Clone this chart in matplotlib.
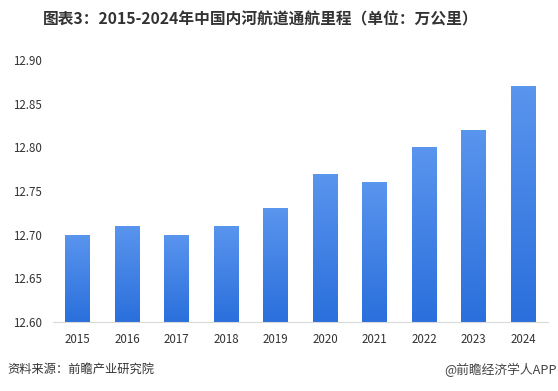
import matplotlib.pyplot as plt
import numpy as np
from matplotlib.colors import LinearSegmentedColormap

plt.rcParams['font.family'] = ['Noto Sans CJK SC', 'DejaVu Sans']

years = ['2015', '2016', '2017', '2018', '2019', '2020', '2021', '2022', '2023', '2024']
mileage = [12.70, 12.71, 12.70, 12.71, 12.73, 12.77, 12.76, 12.80, 12.82, 12.87]
yticks = [12.60, 12.65, 12.70, 12.75, 12.80, 12.85, 12.90]

fig = plt.figure(figsize=(5.58, 3.91), dpi=100)
ax = fig.add_axes([0.095, 0.176, 0.887, 0.671])

x = np.arange(len(years))
ymin, ymax = 12.60, 12.90
bars = ax.bar(x, mileage, width=0.5, color='none', edgecolor='none', bottom=0)

# vertical gradient fill, light on top, darker at the bottom
cmap = LinearSegmentedColormap.from_list('g', ['#2A6FDC', '#5A95EE'])
grad = np.linspace(0, 1, 256).reshape(-1, 1)
for b, v in zip(bars, mileage):
    x0 = b.get_x()
    im = ax.imshow(grad, extent=[x0, x0 + b.get_width(), ymin, v], origin='lower',
                   cmap=cmap, aspect='auto', zorder=2)
    im.set_clip_path(b)

ax.set_xlim(-0.5, len(years) - 0.5)
ax.set_ylim(ymin, ymax)
ax.set_xticks(x)
ax.set_xticklabels(years)
ax.set_yticks(yticks)
ax.set_yticklabels([f'{t:.2f}' for t in yticks])
ax.tick_params(axis='both', length=0, labelsize=8.3, colors='#333333')
ax.tick_params(axis='x', pad=8)
ax.tick_params(axis='y', pad=8)

for s in ['top', 'right', 'left']:
    ax.spines[s].set_visible(False)
ax.spines['bottom'].set_color('#D9D9D9')

fig.text(0.468, 0.950, '图表3：2015-2024年中国内河航道通航里程（单位：万公里）',
         ha='center', va='center', fontsize=11.3, fontweight='bold', color='#333333')
fig.text(0.013, 0.055, '资料来源：前瞻产业研究院', ha='left', va='center', fontsize=8.8, color='#333333')
fig.text(0.998, 0.055, '@前瞻经济学人APP', ha='right', va='center', fontsize=9.2, color='#444444')

fig.savefig('out.png', dpi=100)
